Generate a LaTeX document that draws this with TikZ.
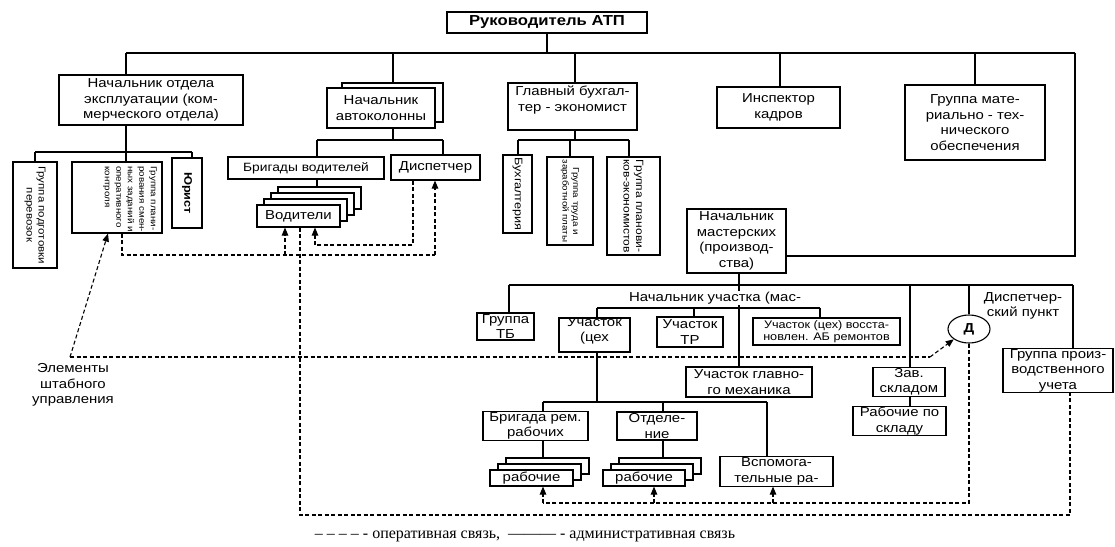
\documentclass[tikz,border=0pt]{standalone}
\usepackage{fontspec}
\setmainfont{Liberation Sans}[FakeStretch=1.15]
\newfontfamily\legfont{Liberation Serif}
\usetikzlibrary{arrows.meta,shapes.geometric}
\tikzset{
 bx/.style={draw, line width=1.1pt, fill=white, inner sep=1pt, align=center, font=\fontsize{13}{15.5}\selectfont},
 rbx/.style={draw, line width=1.1pt, fill=white, inner sep=0pt},
 rtxt/.style={rotate=-90, align=center, inner sep=1pt},
 ln/.style={line width=1.1pt},
 op/.style={line width=1.1pt, dash pattern=on 4pt off 2.5pt},
 tip/.style={-{Triangle[length=8pt,width=6.5pt]}},
 lbl/.style={align=center, inner sep=1pt, font=\fontsize{13}{15.5}\selectfont},
}
\begin{document}
\begin{tikzpicture}[x=1pt,y=-1pt]
\useasboundingbox (0,0) rectangle (1115,546);

% ---------- top level ----------
\node[bx, minimum width=200, minimum height=21, font=\fontsize{14.5}{16}\bfseries] (ruk) at (547,22.5) {Руководитель АТП};
\node[bx, minimum width=184, minimum height=50] (nachexp) at (151,100) {Начальник отдела\\эксплуатации (ком-\\мерческого отдела)};
\node[rbx, minimum width=101, minimum height=39] (avback) at (392.5,102.5) {};
\node[bx, minimum width=108, minimum height=40] (avfront) at (381,108) {Начальник\\автоколонны};
\node[rbx, minimum width=129, minimum height=47] (glbuh) at (572.5,106.5) {};
\node[lbl] at (572.5,100) {Главный бухгал-\\тер - экономист};
\node[bx, minimum width=123, minimum height=41] (insp) at (778.5,107.5) {Инспектор\\кадров};
\node[bx, minimum width=140, minimum height=75] (grmat) at (975,122.5) {Группа мате-\\риально - тех-\\нического\\обеспечения};

% ---------- under exploitation ----------
\node[rbx, minimum width=44, minimum height=106] (gpp) at (35,215) {};
\node[rtxt, font=\fontsize{10}{12}\selectfont] at (gpp) {Группа подготовки\\перевозок};
\node[rbx, minimum width=90, minimum height=71] (gpl) at (117,197.5) {};
\node[rtxt, anchor=north west, align=left, font=\fontsize{8.5}{11.5}\selectfont] at (158,165) {Группа плани-\\рования смен-\\ных заданий и\\оперативного\\контроля};
\node[rbx, minimum width=30, minimum height=70] (yur) at (187,193) {};
\node[rtxt, font=\fontsize{11}{13}\selectfont\bfseries] at (yur) {Юрист};

% ---------- under autocolumn ----------
\node[bx, minimum width=156, minimum height=22, font=\fontsize{12}{14}\selectfont] (brig) at (306,168) {Бригады водителей};
\node[bx, minimum width=89, minimum height=25] (disp) at (435.5,167.5) {Диспетчер};
\node[rbx, minimum width=83, minimum height=22] (vod4) at (319.5,198) {};
\node[rbx, minimum width=83, minimum height=22] (vod3) at (312.5,204) {};
\node[rbx, minimum width=83, minimum height=22] (vod2) at (305.5,210) {};
\node[bx, minimum width=83, minimum height=22] (vod1) at (298.5,216) {Водители};

% ---------- under chief accountant ----------
\node[rbx, minimum width=29, minimum height=78] (buh) at (517.5,194) {};
\node[rtxt, font=\fontsize{11}{12}\selectfont] at (buh) {Бухгалтерия};
\node[rbx, minimum width=46, minimum height=88] (gtrud) at (570,201) {};
\node[rtxt, font=\fontsize{8.5}{10.5}\selectfont] at (gtrud) {Группа труда и\\заработной платы};
\node[rbx, minimum width=53, minimum height=98] (gplan) at (633.5,206) {};
\node[rtxt, font=\fontsize{10.5}{12.5}\selectfont] at (gplan) {Группа планови-\\ков-экономистов};

% ---------- workshops ----------
\node[bx, minimum width=99, minimum height=64] (nachmast) at (736.5,241) {Начальник\\мастерских\\(производ-\\ства)};
\node[bx, minimum width=57, minimum height=27] (grTB) at (505.5,326.5) {Группа\\ТБ};
\node[rbx, minimum width=71, minimum height=34] (uch1) at (594.5,335) {};
\node[lbl] at (594.5,331) {Участок\\(цех};
\node[bx, minimum width=66, minimum height=30] (uchTR) at (690,332) {Участок\\ТР};
\node[bx, minimum width=147, minimum height=27, font=\fontsize{11}{12.5}\selectfont] (uchAB) at (826.5,331.5) {Участок (цех) восста-\\новлен. АБ ремонтов};
\node[bx, minimum width=126, minimum height=30] (uchGM) at (749,382) {Участок главно-\\го механика};
\node[bx, minimum width=105, minimum height=28] (brigrem) at (535.5,426) {Бригада рем.\\рабочих};
\node[bx, minimum width=80, minimum height=28] (otdel) at (657,426) {Отделе-\\ние};
\node[rbx, minimum width=83, minimum height=16] (rab1c) at (547.5,466) {};
\node[rbx, minimum width=83, minimum height=16] (rab1b) at (539.5,472) {};
\node[bx, minimum width=83, minimum height=16] (rab1) at (531.5,478) {рабочие};
\node[rbx, minimum width=82, minimum height=16] (rab2c) at (660,466) {};
\node[rbx, minimum width=82, minimum height=16] (rab2b) at (652,472) {};
\node[bx, minimum width=82, minimum height=16] (rab2) at (644,478) {рабочие};
\node[bx, minimum width=113, minimum height=29] (vsp) at (776.5,471.5) {Вспомога-\\тельные ра-};
\node[bx, minimum width=72, minimum height=28] (zav) at (909,382) {Зав.\\складом};
\node[bx, minimum width=93, minimum height=24] (rabskl) at (899.5,421) {Рабочие по\\складу};
\node[draw, ellipse, line width=1.1pt, fill=white, minimum width=42, minimum height=28, inner sep=0pt, font=\fontsize{13}{15}\bfseries] (D) at (969,329) {Д};
\node[lbl] (dpunkt) at (1023,306) {Диспетчер-\\ский пункт};
\node[bx, minimum width=110, minimum height=37] (gpu) at (1058,370.5) {Группа произ-\\водственного\\учета};
\node[lbl] (elem) at (73,385) {Элементы\\штабного\\управления};

% ---------- administrative links ----------
\draw[ln] (ruk.south) -- (547,53);
\draw[ln] (126,53) -- (1075,53);
\draw[ln] (126,53) -- (126,0 |- nachexp.north);
\draw[ln] (393,53) -- (393,0 |- avback.north);
\draw[ln] (575,53) -- (575,0 |- glbuh.north);
\draw[ln] (780,53) -- (780,0 |- insp.north);
\draw[ln] (975,53) -- (grmat.north);
\draw[ln] (1075,53) -- (1075,256) -- (nachmast.east |- 0,256);

\draw[ln] (126,0 |- nachexp.south) -- (126,152);
\draw[ln] (35,152) -- (192,152);
\draw[ln] (35,152) -- (gpp.north);
\draw[ln] (126,152) -- (126,0 |- gpl.north);
\draw[ln] (192,152) -- (192,0 |- yur.north);

\draw[ln] (393,0 |- avfront.south) -- (393,140);
\draw[ln] (317,140) -- (443,140);
\draw[ln] (317,140) -- (317,0 |- brig.north);
\draw[ln] (443,140) -- (443,0 |- disp.north);
\draw[ln] (317,0 |- brig.south) -- (317,0 |- vod4.north);

\draw[ln] (575,0 |- glbuh.south) -- (575,140);
\draw[ln] (518,140) -- (629,140);
\draw[ln] (518,140) -- (518,0 |- buh.north);
\draw[ln] (570,140) -- (gtrud.north);
\draw[ln] (629,140) -- (629,0 |- gplan.north);

\draw[ln] (739,0 |- nachmast.south) -- (739,285);
\draw[ln] (509,285) -- (1073,285);
\draw[ln] (509,285) -- (509,0 |- grTB.north);
\draw[ln] (739,285) -- (739,0 |- uchGM.north);
\draw[ln] (597,308) -- (820,308);
\draw[ln] (597,308) -- (597,0 |- uch1.north);
\draw[ln] (694,308) -- (694,0 |- uchTR.north);
\draw[ln] (820,308) -- (820,0 |- uchAB.north);
\draw[ln] (597,0 |- uch1.south) -- (597,402);
\draw[ln] (543,402) -- (767,402);
\draw[ln] (543,402) -- (543,0 |- brigrem.north);
\draw[ln] (663,402) -- (663,0 |- otdel.north);
\draw[ln] (767,402) -- (767,0 |- vsp.north);
\draw[ln] (543,0 |- brigrem.south) -- (543,0 |- rab1c.north);
\draw[ln] (663,0 |- otdel.south) -- (663,0 |- rab2c.north);
\draw[ln] (910,285) -- (910,0 |- zav.north);
\draw[ln] (910,0 |- zav.south) -- (910,0 |- rabskl.north);
\draw[ln] (969,285) -- (D.north);
\draw[ln] (1073,285) -- (1073,0 |- gpu.north);
\node[lbl, fill=white] (nachuch) at (715,298) {Начальник участка (мас-};

% ---------- operative links ----------
\draw[op] (122,0 |- gpl.south) -- (122,255) -- (435,255);
\draw[op,tip] (435,255) -- (435,0 |- disp.south);
\draw[op,tip] (285,255) -- (285,0 |- vod1.south);
\draw[op] (413,0 |- disp.south) -- (413,245) -- (315,245);
\draw[op,tip] (315,245) -- (315,0 |- vod1.south);
\draw[op] (300,0 |- vod1.south) -- (300,515) -- (1070,515) -- (1070,0 |- gpu.south);
\coordinate (ec) at (70,357);
\draw[op,tip] (ec) -- (108,0 |- gpl.south);
\draw[op] (ec) -- (930,357);
\draw[op,tip] (930,357) -- (D.south west);
\draw[op] (D.south) -- (969,503) -- (543,503);
\draw[op,tip] (543,503) -- (543,0 |- rab1.south);
\draw[op,tip] (654,503) -- (654,0 |- rab2.south);
\draw[op,tip] (773,503) -- (773,0 |- vsp.south);

% ---------- legend ----------
\node[inner sep=0pt, font=\legfont\fontsize{16}{18}\selectfont] (legend) at (525,536) {– – – – - оперативная связь, \ ——— - административная связь};
\end{tikzpicture}
\end{document}
